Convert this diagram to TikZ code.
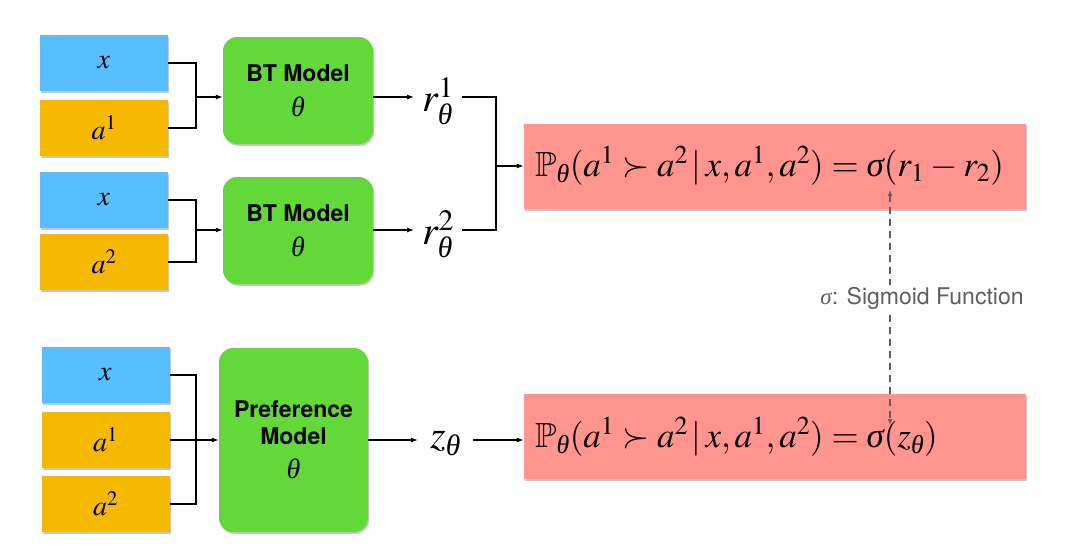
\documentclass[tikz,border=0pt]{standalone}
\usepackage{mathptmx}
\usepackage{amsmath,amssymb}
\usepackage[no-math]{fontspec}
\newfontfamily\helv{TeX Gyre Heros}
\newfontfamily\tms{Liberation Serif}
\newcommand\gth{\text{\tms\mdseries\itshape θ}}
\newcommand\gsig{\text{\tms\mdseries\itshape σ}}
\newcommand\tightmath{\thickmuskip=4mu\relax\medmuskip=3mu\relax}
\usetikzlibrary{arrows.meta,shadows}
\definecolor{cblue}{RGB}{87,191,254}
\definecolor{corange}{RGB}{245,185,0}
\definecolor{cgreen}{RGB}{99,217,57}
\definecolor{cpink}{RGB}{255,149,142}
\definecolor{cgray}{RGB}{95,95,95}
\begin{document}
\begin{tikzpicture}[x=1pt,y=-1pt,
  shadowed/.style={drop shadow={opacity=0.22,shadow xshift=1.2pt,shadow yshift=-1.8pt,fill=black}},
  inbox/.style={shadowed,minimum width=128pt,minimum height=56pt,inner sep=0pt,font=\fontsize{28}{30}\selectfont},
  xbox/.style={inbox,fill=cblue},
  abox/.style={inbox,fill=corange},
  model/.style={shadowed,fill=cgreen,rounded corners=14pt,inner sep=0pt,align=center,font=\helv\bfseries\fontsize{23}{30}\selectfont},
  outbox/.style={shadowed,fill=cpink,minimum width=502pt,minimum height=85pt,inner sep=0pt},
  formula/.style={inner sep=0pt,anchor=west,font=\fontsize{35}{40}\selectfont},
  var/.style={inner ysep=2pt,font=\fontsize{40}{42}\selectfont},
  conn/.style={line width=1.2pt,black},
  arr/.style={conn,-{Latex[length=7pt,width=5pt]}},
  dasharr/.style={line width=1.2pt,cgray,dash pattern=on 7pt off 5pt,{Latex[length=6pt,width=5pt]}-{Latex[length=6pt,width=5pt]}}
]
\useasboundingbox (0,0) rectangle (1066,558);
\fill[white] (0,0) rectangle (1066,558);

% --- top pair
\node[xbox] (x1) at (104,63) {$x$};
\node[abox] (a11) at (104,128) {$a^1$};
\node[model,minimum width=150pt,minimum height=107pt] (g1) at (298,90.5)
  {BT Model\\[5pt]{\fontsize{28}{28}\selectfont$\gth$}};
\node[var,anchor=west,inner xsep=8pt] (r1) at (414,101) {$r_{\gth}^1$};

\node[xbox] (x2) at (104,200) {$x$};
\node[abox] (a2) at (104,262) {$a^2$};
\node[model,minimum width=150pt,minimum height=107pt] (g2) at (298,230.5)
  {BT Model\\[5pt]{\fontsize{28}{28}\selectfont$\gth$}};
\node[var,anchor=west,inner xsep=8pt] (r2) at (414,234) {$r_{\gth}^2$};

\node[outbox] (p1) at (775,166.5) {};
\node[formula] (f1) at (535,166) {$\tightmath\mathbb{P}_{\gth}(a^1 \succ a^2\,|\,x, a^1, a^2) = \gsig(r_1 - r_2)$};

% --- bottom
\node[xbox] (x3) at (105.5,375) {$x$};
\node[abox] (a13) at (105.5,440) {$a^1$};
\node[abox] (a23) at (105.5,504) {$a^2$};
\node[model,minimum width=149pt,minimum height=184pt] (g3) at (293.5,440)
  {Preference\\[-3pt]Model\\[4pt]{\fontsize{28}{28}\selectfont$\gth$}};
\node[var,anchor=west,inner xsep=12pt] (z) at (418,443) {$z_{\gth}$};

\node[outbox] (p2) at (775,436.5) {};
\node[formula] (f2) at (535,437) {$\tightmath\mathbb{P}_{\gth}(a^1 \succ a^2\,|\,x, a^1, a^2) = \gsig(z_{\gth})$};

% --- connectors top
\coordinate (j1) at (196,97);
\draw[conn] (x1.east) -| (j1);
\draw[conn] (a11.east) -| (j1);
\draw[arr] (j1) -- (g1.west |- j1);
\draw[arr] (g1.east |- j1) -- (r1.west |- j1);

\coordinate (j2) at (196,230);
\draw[conn] (x2.east) -| (j2);
\draw[conn] (a2.east) -| (j2);
\draw[arr] (j2) -- (g2.west |- j2);
\draw[arr] (g2.east |- j2) -- (r2.west |- j2);

\coordinate (j3) at (496,166);
\draw[conn] (r1.east |- j1) -| (j3);
\draw[conn] (r2.east |- j2) -| (j3);
\draw[arr] (j3) -- (p1.west |- j3);

% --- connectors bottom
\coordinate (j4) at (196,440);
\draw[conn] (x3.east) -| (j4);
\draw[conn] (a23.east) -| (j4);
\draw[arr] (a13.east) -- (g3.west |- a13);
\draw[arr] (g3.east |- a13) -- (z.west |- a13);
\draw[arr] (z.east |- a13) -- (p2.west |- a13);

% --- sigmoid link
\coordinate (s1) at (890,190);
\coordinate (s2) at (890,425);
\draw[dasharr] (s1) -- (s2);
\node[fill=white,inner sep=2pt,text=cgray,font=\helv\fontsize{23}{26}\selectfont] (lab) at (922,298) {$\gsig$: Sigmoid Function};
\end{tikzpicture}
\end{document}
